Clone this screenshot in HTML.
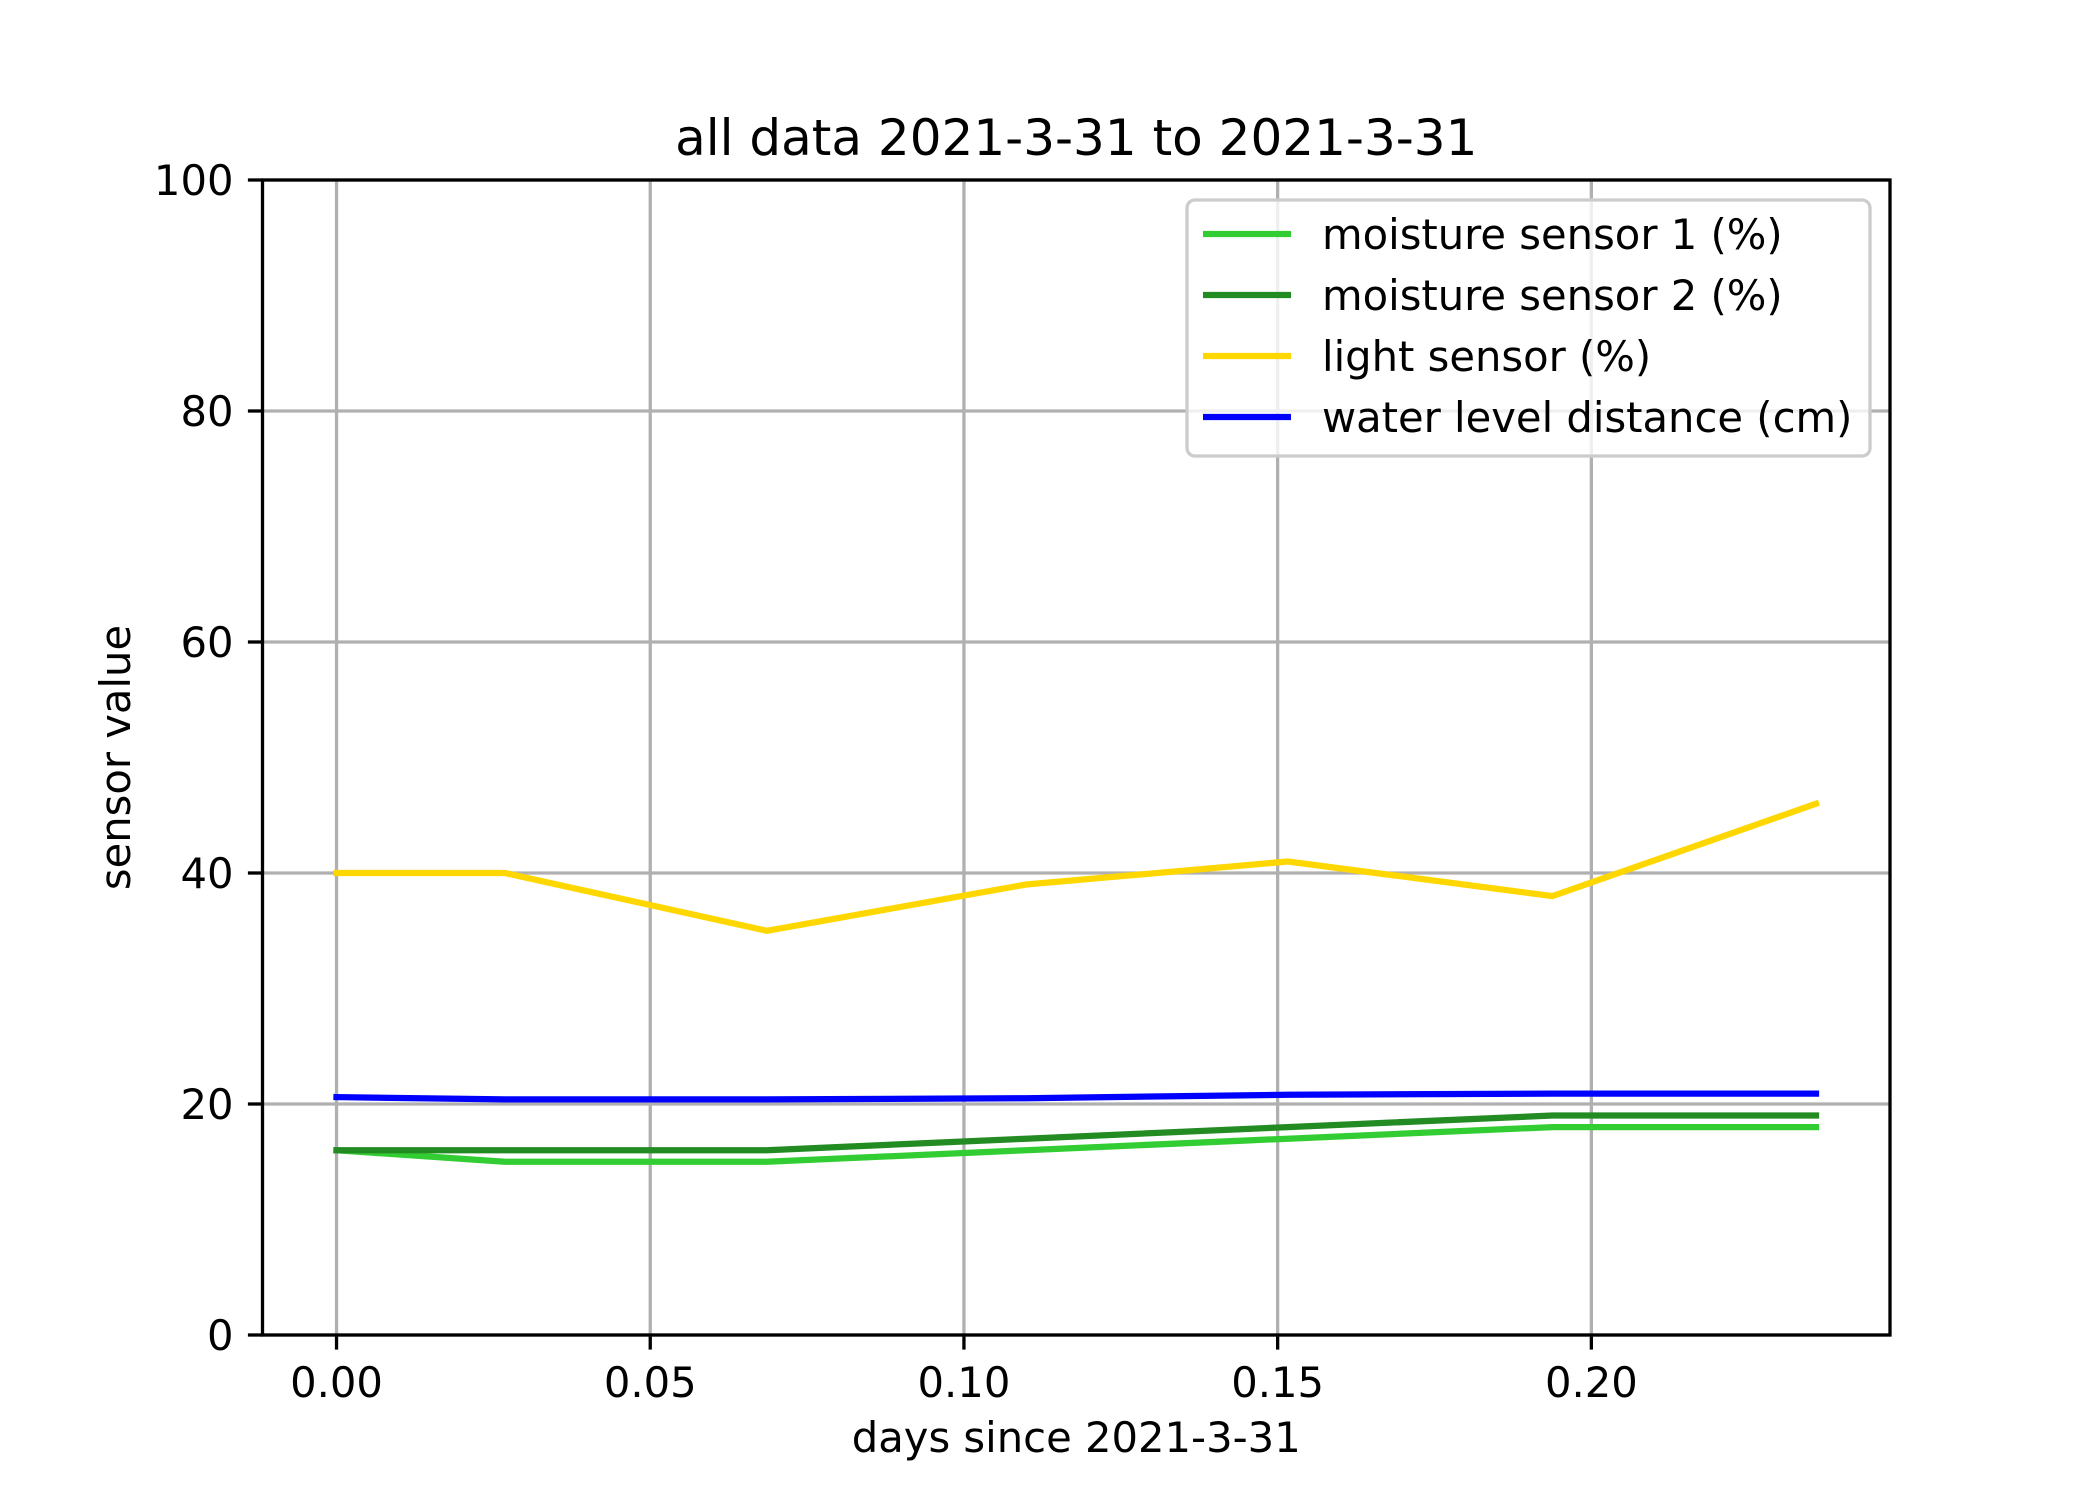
<!DOCTYPE html>
<html><head><meta charset="utf-8"><style>html,body{margin:0;padding:0;background:#fff}svg{display:block}text{font-family:"DejaVu Sans","Liberation Sans",sans-serif;fill:#000}</style></head>
<body>
<svg id="chart" width="2100" height="1500" viewBox="0 0 2100 1500" xmlns="http://www.w3.org/2000/svg"></svg>
<script>
const xDays = [0, 0.0268, 0.0686, 0.1099, 0.1516, 0.1938, 0.2358];
const moisture1 = [16, 15, 15, 16, 17, 18, 18];
const moisture2 = [16, 16, 16, 17, 18, 19, 19];
const lightSensor = [40, 40, 35, 39, 41, 38, 46];
const waterLevel = [20.6, 20.4, 20.4, 20.5, 20.8, 20.9, 20.9];
const xTicks = [0, 0.05, 0.10, 0.15, 0.20];
const xTickLabels = ["0.00", "0.05", "0.10", "0.15", "0.20"];
const yTicks = [0, 20, 40, 60, 80, 100];
const seriesNames = ["moisture sensor 1 (%)", "moisture sensor 2 (%)", "light sensor (%)", "water level distance (cm)"];

const NS = "http://www.w3.org/2000/svg";
const svg = document.getElementById("chart");
const L = 262.5, R = 1890, T = 180, B = 1335;
const xmin = -0.0118, xmax = 0.2476;
const X = v => L + (v - xmin) / (xmax - xmin) * (R - L);
const Y = v => B - v / 100 * (B - T);
function mk(tag, attrs, parent) {
  const e = document.createElementNS(NS, tag);
  for (const k in attrs) e.setAttribute(k, attrs[k]);
  (parent || svg).appendChild(e);
  return e;
}
xTicks.forEach((t, i) => {
  const g = mk("line", {x1: X(t), x2: X(t), y1: T, y2: B, stroke: "#b0b0b0", "stroke-width": 3.3});
  
  
  const tk = mk("line", {x1: X(t), x2: X(t), y1: B, y2: B + 14.6, stroke: "#000", "stroke-width": 3.3});
  
  
  const tx = mk("text", {x: X(t), y: B + 62, "font-size": 41.7, "text-anchor": "middle"});
  tx.textContent = xTickLabels[i];
  
  
});
yTicks.forEach(t => {
  const g = mk("line", {x1: L, x2: R, y1: Y(t), y2: Y(t), stroke: "#b0b0b0", "stroke-width": 3.3});
  
  
  const tk = mk("line", {x1: L - 14.6, x2: L, y1: Y(t), y2: Y(t), stroke: "#000", "stroke-width": 3.3});
  
  
  const tx = mk("text", {x: L - 29, y: Y(t) + 15, "font-size": 41.7, "text-anchor": "end"});
  tx.textContent = String(t);
  
  
});
const seriesData = [moisture1, moisture2, lightSensor, waterLevel];
const colors = ["#32cd32", "#228b22", "#ffd700", "#0000ff"];
const seriesKeys = ["moisture-sensor-1-line", "moisture-sensor-2-line", "light-sensor-line", "water-level-line"];
seriesData.forEach((d, i) => {
  const pts = d.map((v, j) => X(xDays[j]).toFixed(1) + "," + Y(v).toFixed(1)).join(" ");
  const p = mk("polyline", {points: pts, fill: "none", stroke: colors[i], "stroke-width": 6.25, "stroke-linejoin": "round", "stroke-linecap": "square"});
  
  
});
const fr = mk("rect", {x: L, y: T, width: R - L, height: B - T, fill: "none", stroke: "#000", "stroke-width": 3.3});


const lg = mk("g", {});


mk("rect", {x: 1187, y: 200, width: 683, height: 256, rx: 8, fill: "#fff", "fill-opacity": 0.8, stroke: "#cccccc", "stroke-width": 3.3}, lg);
seriesNames.forEach((n, i) => {
  const y = 234 + i * 61;
  const e = mk("g", {}, lg);
  
  
  mk("line", {x1: 1203, x2: 1291, y1: y, y2: y, stroke: colors[i], "stroke-width": 6.25}, e);
  const t = mk("text", {x: 1322, y: y + 15, "font-size": 41.7}, e);
  t.textContent = n;
});
const ti = mk("text", {x: (L + R) / 2, y: 155, "font-size": 50, "text-anchor": "middle"});
ti.textContent = "all data 2021-3-31 to 2021-3-31";


const xl = mk("text", {x: (L + R) / 2, y: 1452, "font-size": 41.7, "text-anchor": "middle"});
xl.textContent = "days since 2021-3-31";


const yl = mk("text", {x: 0, y: 0, "font-size": 41.7, "text-anchor": "middle", transform: "translate(130," + (T + B) / 2 + ") rotate(-90)"});
yl.textContent = "sensor value";


</script>
</body></html>
